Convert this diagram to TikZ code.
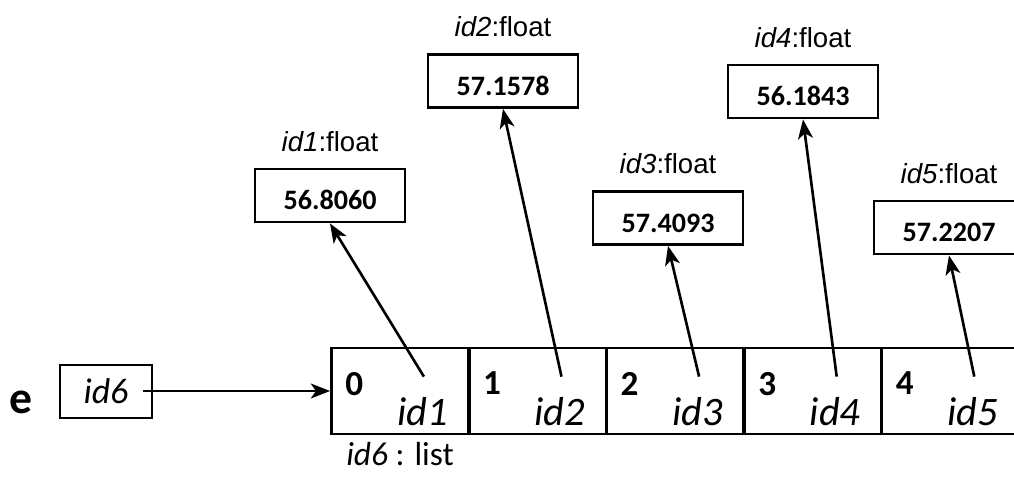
\documentclass[tikz,border=0pt]{standalone}
\usepackage{fontspec}
\setmainfont{Carlito}
\newfontfamily\arialfont{Liberation Sans}
\usetikzlibrary{positioning,arrows.meta}
\tikzset{
	cell/.style={draw,line width=1.6pt,minimum width=2.74cm,minimum height=1.72cm,inner sep=0pt},
	idbox/.style={draw,line width=1.6pt,minimum width=1.84cm,minimum height=1.06cm,inner sep=0pt},
	valbox/.style={draw,line width=1.6pt,minimum width=3cm,minimum height=1.06cm,inner sep=0pt,
		text height=16.3pt,text depth=0pt,font=\fontsize{16}{18}\selectfont\bfseries},
	idx/.style={inner sep=0pt,font=\fontsize{20}{22}\selectfont\bfseries},
	ref/.style={inner sep=0pt,font=\fontsize{23}{26}\selectfont\itshape},
	ftype/.style={inner sep=0pt,font=\arialfont\fontsize{15.7}{18}\selectfont},
	ptr/.style={line width=1.5pt,-{Stealth[length=11pt,width=8.5pt,inset=3pt]}},
}
\begin{document}
\begin{tikzpicture}[x=0.02cm,y=-0.02cm]
\useasboundingbox (0,0) rectangle (1014,477);
\node[inner sep=0pt,anchor=base,font=\fontsize{26}{30}\selectfont\bfseries] (e) at (21,413) {e};
\node[idbox,font=\fontsize{20.4}{24}\selectfont\itshape] (b6) at (106,391.5) {id6};
\coordinate (p6) at (143,391);
\foreach \i/\v in {0/1,1/2,2/3,3/4,4/5} {
	\pgfmathsetmacro{\x}{400+137.6*\i}
	\node[cell] (c\i) at (\x,391) {};
	\node[idx,anchor=north west] (n\i) at ([shift={(15,25)}]c\i.north west) {\i};
	\node[ref,anchor=base east] (t\i) at ([shift={(-22,-10)}]c\i.south east) {id\v};
	\coordinate (s\i) at ([shift={(-46,30)}]c\i.north east);
}
\draw[ptr] (p6) -- (c0.west);
\node[inner sep=0pt,below=4pt of c0,font=\fontsize{19}{22}\selectfont] (lst) {\textit{id6} : list};
\foreach \i/\x/\y/\val in {1/330/195.5/56.8060,2/503/81/57.1578,3/668/218/57.4093,4/803/91.5/56.1843,5/949/227.5/57.2207} {
	\node[valbox] (v\i) at (\x,\y) {\val};
	\node[ftype,above=9pt of v\i] (f\i) {\textit{id\i}:float};
	\pgfmathtruncatemacro{\j}{\i-1}
	\draw[ptr] (s\j) -- (v\i.south);
}
\end{tikzpicture}
\end{document}
